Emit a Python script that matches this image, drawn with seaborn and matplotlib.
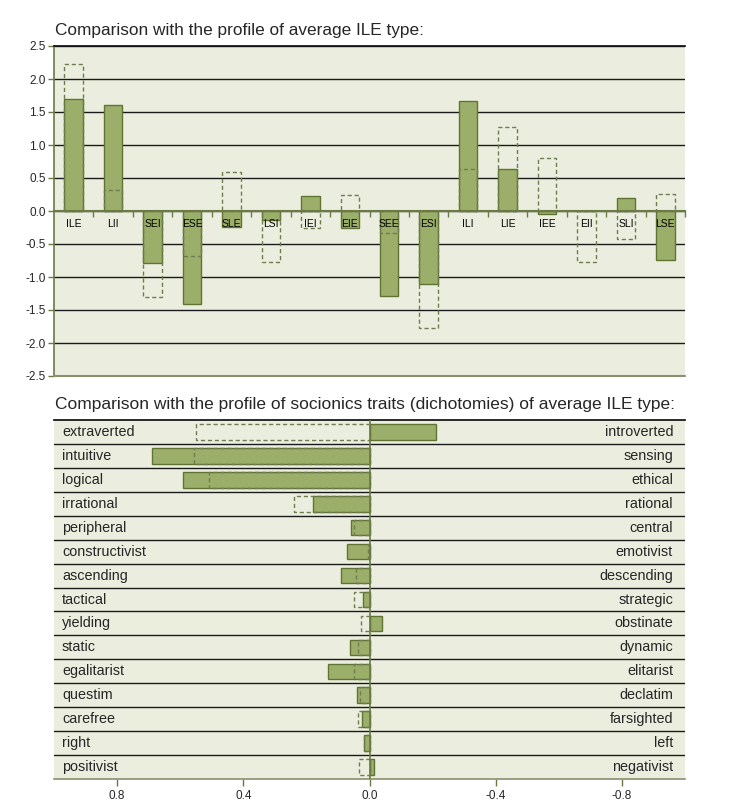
import numpy as np
import pandas as pd
import matplotlib
matplotlib.use('Agg')
import matplotlib.pyplot as plt
import matplotlib.transforms as mtransforms
import seaborn as sns

# top chart: 16 socionics types
types = ['ILE', 'LII', 'SEI', 'ESE', 'SLE', 'LSI', 'IEI', 'EIE',
         'SEE', 'ESI', 'ILI', 'LIE', 'IEE', 'EII', 'SLI', 'LSE']
type_actual = [1.70, 1.61, -0.79, -1.41, -0.25, -0.13, 0.23, -0.26,
               -1.29, -1.10, 1.66, 0.64, -0.05, 0.0, 0.19, -0.74]
type_expected = [2.22, 0.32, -1.30, -0.68, 0.59, -0.78, -0.26, 0.24,
                 -0.33, -1.77, 0.64, 1.28, 0.80, -0.78, -0.42, 0.25]

# bottom chart: dichotomies (positive = left pole)
left_traits = ['extraverted', 'intuitive', 'logical', 'irrational', 'peripheral',
               'constructivist', 'ascending', 'tactical', 'yielding', 'static',
               'egalitarist', 'questim', 'carefree', 'right', 'positivist']
right_traits = ['introverted', 'sensing', 'ethical', 'rational', 'central',
                'emotivist', 'descending', 'strategic', 'obstinate', 'dynamic',
                'elitarist', 'declatim', 'farsighted', 'left', 'negativist']
trait_actual = [-0.21, 0.69, 0.59, 0.18, 0.06, 0.07, 0.09, 0.02, -0.04, 0.063,
                0.13, 0.04, 0.023, 0.019, -0.013]
trait_expected = [0.55, 0.555, 0.51, 0.24, 0.05, 0.005, 0.042, 0.05, 0.027, 0.035,
                  0.048, 0.03, 0.035, 0.017, 0.032]

BG = '#EBEEDE'
FILL = '#9CAF6A'
EDGE = '#5F7432'
DASH = '#6E7D50'
OLIVE = '#6B7A45'

sns.set_theme(style='white')
plt.rcParams['font.family'] = ['Liberation Sans', 'DejaVu Sans']

fig = plt.figure(figsize=(7.35, 8.05), dpi=100)
W, H = 735, 805

def box(l, t, r, b):
    return [l / W, 1 - b / H, (r - l) / W, (b - t) / H]

# ---------------- top chart
ax1 = fig.add_axes(box(54, 46, 685, 376))
ax1.set_facecolor(BG)
df1 = pd.DataFrame({'type': types, 'actual': type_actual, 'expected': type_expected})
sns.barplot(data=df1, x='type', y='actual', ax=ax1, color=FILL, saturation=1,
            width=0.47, edgecolor=EDGE, linewidth=1.0, zorder=3)
sns.barplot(data=df1, x='type', y='expected', ax=ax1, fill=False, color=DASH,
            width=0.47, linewidth=1.0, linestyle=(0, (3, 2)), zorder=4)
ax1.set_xlim(-0.5, len(types) - 0.5)
ax1.set_ylim(-2.5, 2.5)
yt = np.arange(-2.5, 2.51, 0.5)
ax1.set_yticks(yt)
ax1.set_yticklabels([f'{v:.1f}' for v in yt], fontsize=8.5)
ax1.grid(axis='y', color='#1a1a1a', linewidth=1.0, zorder=1)
ax1.set_axisbelow(True)
ax1.spines['right'].set_visible(False)
ax1.spines['top'].set_color('#111111')
ax1.spines['left'].set_color(OLIVE)
ax1.spines['left'].set_linewidth(1.2)
ax1.spines['bottom'].set_position(('data', 0))
ax1.spines['bottom'].set_color(OLIVE)
ax1.spines['bottom'].set_linewidth(1.5)
ax1.spines['bottom'].set_zorder(5)
ax1.axhline(-2.5, color='#8A9070', linewidth=1.5, clip_on=False, zorder=5)
ax1.set_xticks(np.arange(len(types)) + 0.5, minor=True)
ax1.tick_params(axis='x', which='major', length=0, pad=6, labelsize=7.5, labelcolor='black')
ax1.tick_params(axis='x', which='minor', bottom=True, length=4, width=1, color=OLIVE, direction='out')
ax1.tick_params(axis='y', left=True, length=4, width=1, color=OLIVE, pad=2)
ax1.xaxis.set_zorder(6)
ax1.set_xlabel('')
ax1.set_ylabel('')
fig.text(55 / W, 1 - 30 / H, 'Comparison with the profile of average ILE type:',
         fontsize=12.4, va='center', ha='left')

# ---------------- bottom chart
ax2 = fig.add_axes(box(54, 420, 685, 779))
ax2.set_facecolor(BG)
df2 = pd.DataFrame({'trait': left_traits, 'actual': trait_actual, 'expected': trait_expected})
sns.barplot(data=df2, x='actual', y='trait', orient='h', ax=ax2, color=FILL, saturation=1,
            width=0.65, edgecolor=EDGE, linewidth=1.0, zorder=3)
sns.barplot(data=df2, x='expected', y='trait', orient='h', ax=ax2, fill=False, color=DASH,
            width=0.65, linewidth=1.0, linestyle=(0, (3, 2)), zorder=4)
n = len(left_traits)
ax2.set_xlim(1.0, -1.0)
ax2.set_ylim(n - 0.5, -0.5)
ax2.set_yticks([])
ax2.set_yticks(np.arange(n - 1) + 0.5, minor=True)
ax2.grid(which='minor', axis='y', color='#1a1a1a', linewidth=1.0, zorder=1)
ax2.grid(which='major', axis='x', visible=False)
ax2.set_axisbelow(True)
ax2.tick_params(axis='y', which='both', length=0)
ax2.axvline(0, color=OLIVE, linewidth=1.2, zorder=5)
xt = [0.8, 0.4, 0.0, -0.4, -0.8]
ax2.set_xticks(xt)
ax2.set_xticklabels([f'{v:.1f}' for v in xt], fontsize=8.5)
ax2.tick_params(axis='x', bottom=True, length=5, width=1, color=OLIVE, pad=3)
ax2.spines['left'].set_visible(False)
ax2.spines['right'].set_visible(False)
ax2.spines['top'].set_color('#111111')
ax2.spines['bottom'].set_color('#8A9070')
ax2.spines['bottom'].set_linewidth(1.2)
ax2.set_xlabel('')
ax2.set_ylabel('')
lt = mtransforms.blended_transform_factory(ax2.transAxes, ax2.transData)
for i, (a, b) in enumerate(zip(left_traits, right_traits)):
    ax2.text(8 / 631, i, a, transform=lt, ha='left', va='center', fontsize=10.4)
    ax2.text(1 - 12 / 631, i, b, transform=lt, ha='right', va='center', fontsize=10.4)
fig.text(55 / W, 1 - 405 / H,
         'Comparison with the profile of socionics traits (dichotomies) of average ILE type:',
         fontsize=12.5, va='center', ha='left')

fig.savefig('out.png', dpi=100, facecolor='white')
